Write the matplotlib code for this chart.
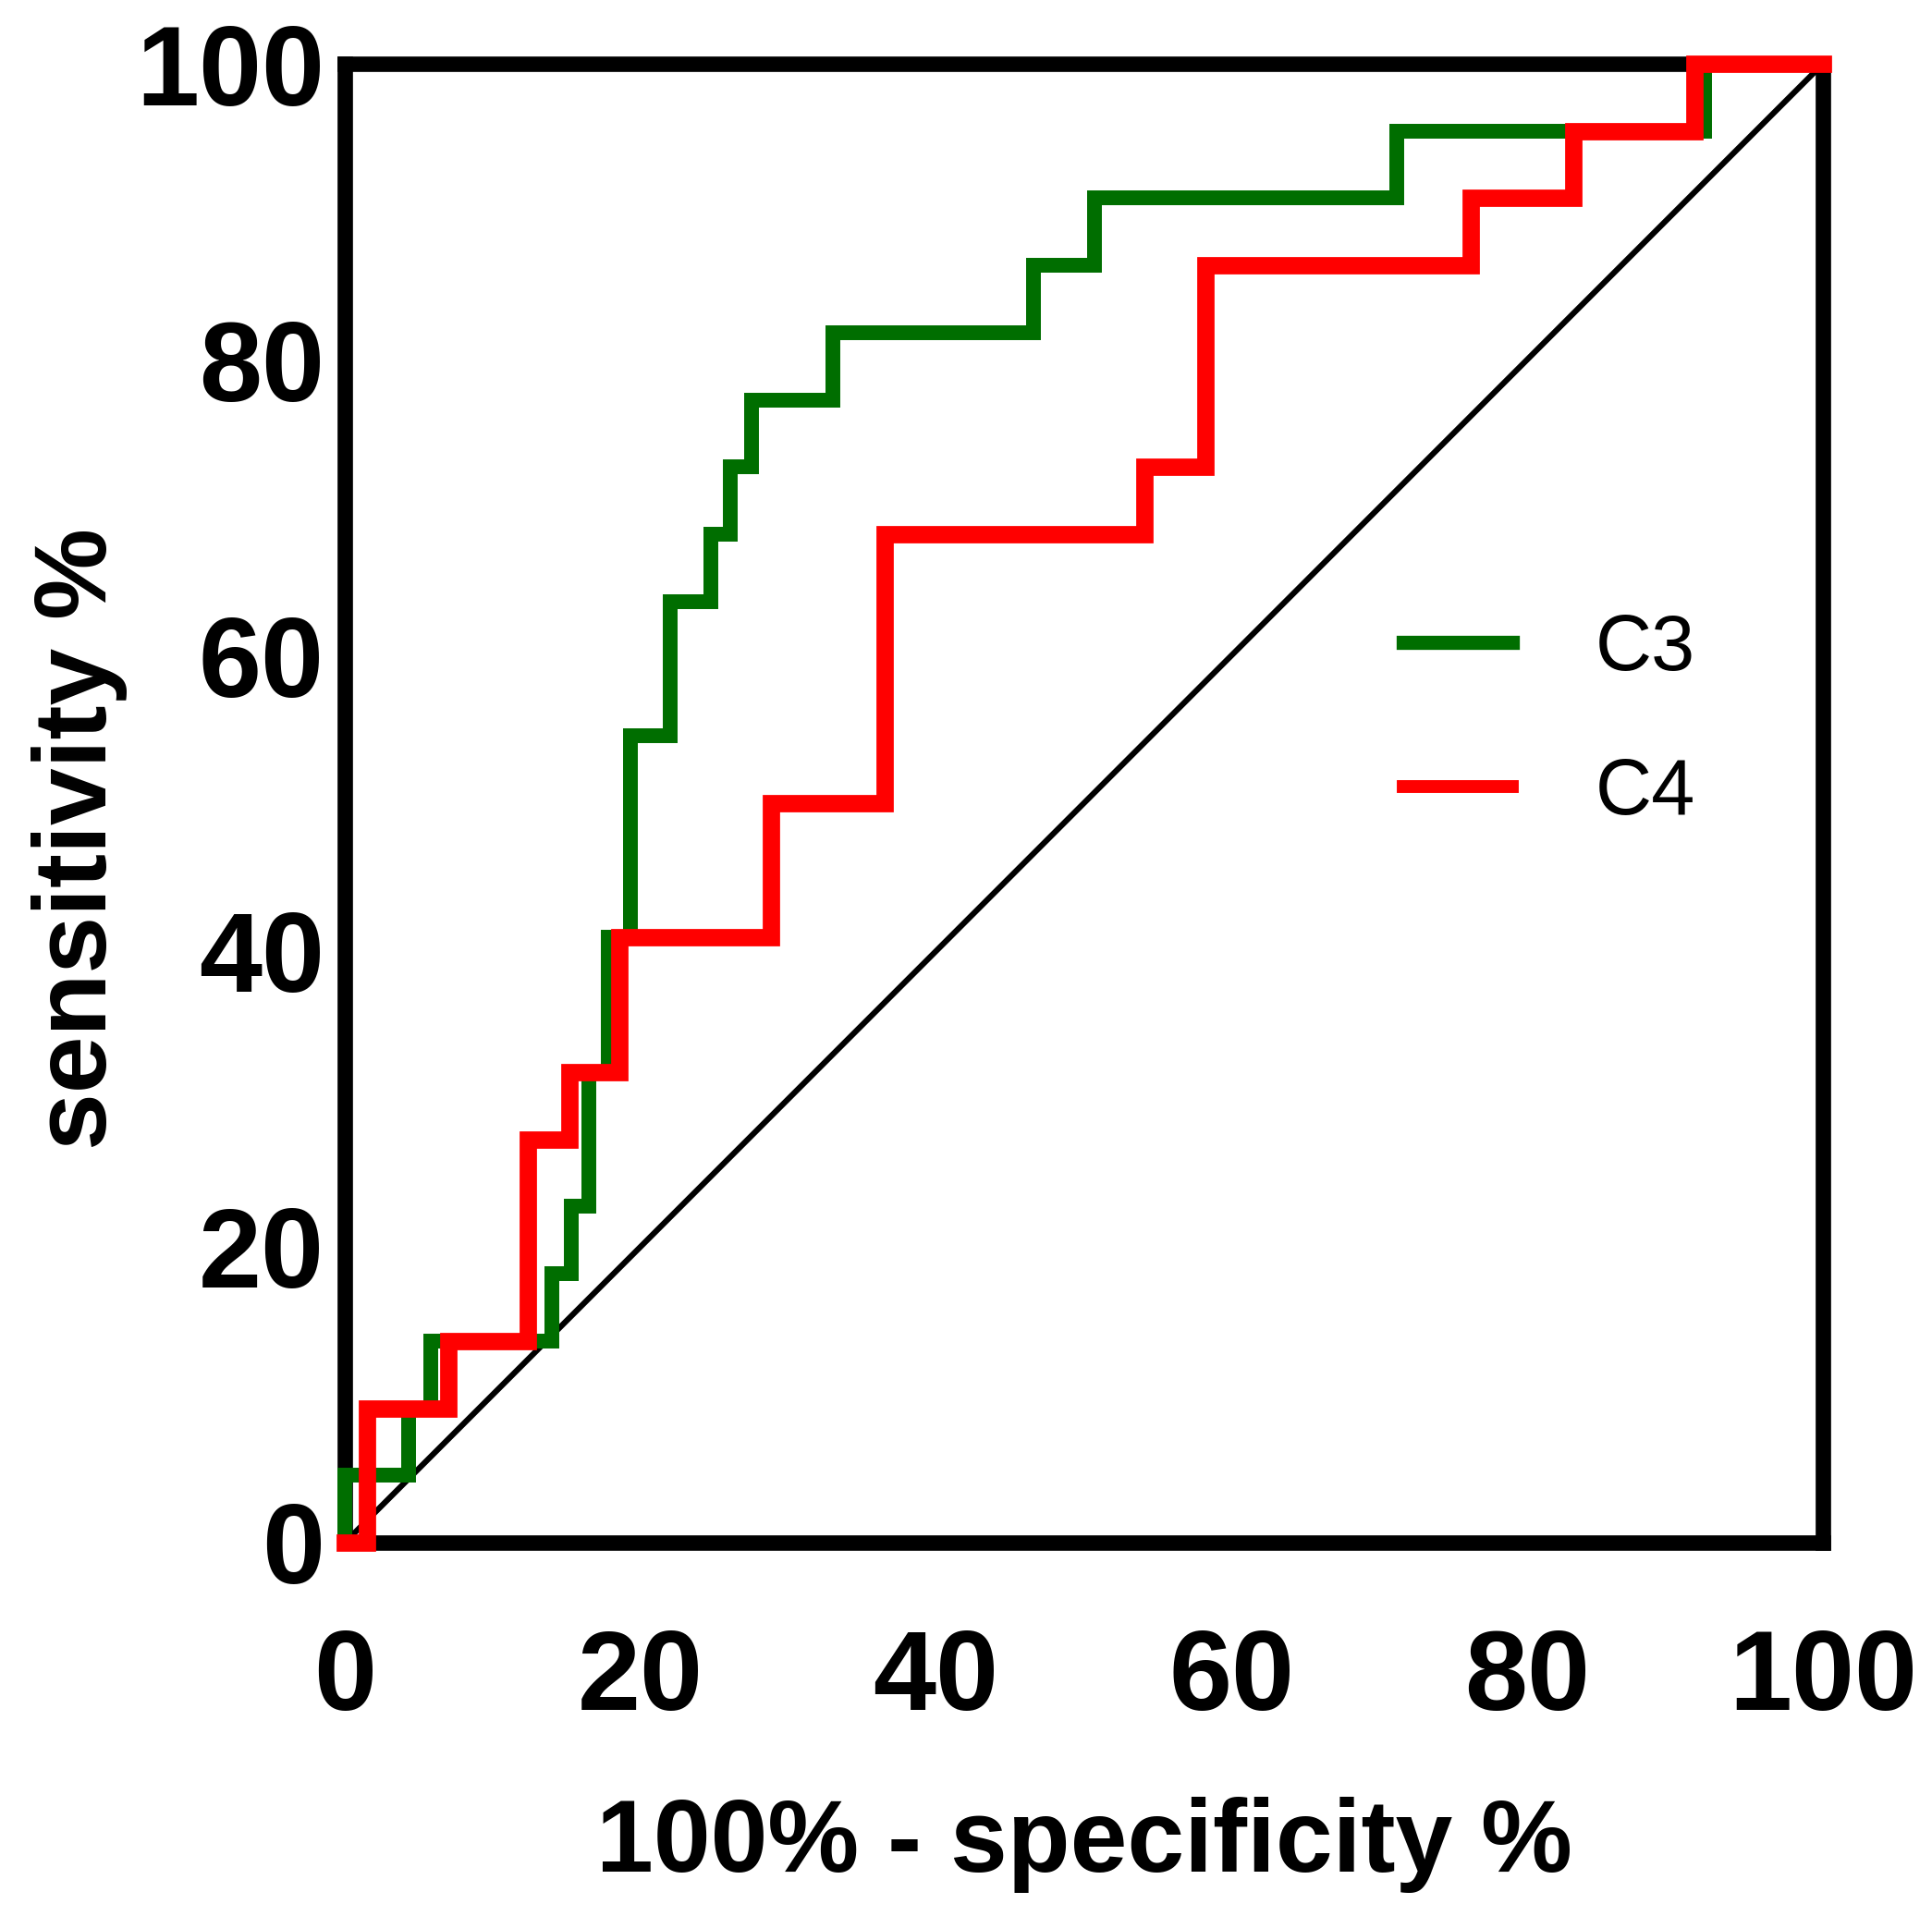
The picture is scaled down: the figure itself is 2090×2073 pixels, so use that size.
import matplotlib
matplotlib.use('Agg')
import matplotlib.pyplot as plt

# ROC points (100% - specificity %, sensitivity %)
c3_fpr = [0, 0, 4.3, 5.8, 14.0, 15.3, 16.5, 17.8, 19.3, 22.0, 24.75, 26.1, 27.5, 33.0, 46.6, 50.75, 71.2, 92.0, 100]
c3_tpr = [0, 4.55, 9.09, 13.64, 18.18, 22.73, 31.82, 40.91, 54.55, 63.64, 68.18, 72.73, 77.27, 81.82, 86.36, 90.91, 95.45, 100, 100]

c4_fpr = [0, 1.5, 7.0, 12.4, 15.2, 18.6, 28.8, 36.5, 54.1, 58.2, 76.2, 83.1, 91.3, 100]
c4_tpr = [0, 9.09, 13.64, 27.27, 31.82, 40.91, 50, 68.18, 72.73, 86.36, 90.91, 95.45, 100, 100]

ticks = [0, 20, 40, 60, 80, 100]

plt.rcParams['font.family'] = ['Liberation Sans', 'DejaVu Sans']

fig = plt.figure(figsize=(20.9, 20.73), dpi=100)
ax = fig.add_axes([0.1785, 0.1949, 0.765, 0.7718])

# line of identity
ax.plot([0, 100], [0, 100], color='black', linewidth=4.5, zorder=2, clip_on=False)
ax.plot(c3_fpr, c3_tpr, drawstyle='steps-post', color='#006e00', linewidth=11.5,
        label='C3', zorder=3, clip_on=False, solid_joinstyle='miter')
ax.plot(c4_fpr, c4_tpr, drawstyle='steps-post', color='#ff0000', linewidth=13.5,
        label='C4', zorder=4, clip_on=False, solid_joinstyle='miter')

ax.set_xlim(0, 100)
ax.set_ylim(0, 100)
ax.set_xticks(ticks)
ax.set_yticks(ticks)
ax.tick_params(axis='both', length=0, labelsize=88)
ax.tick_params(axis='x', pad=66)
ax.tick_params(axis='y', pad=16)
for lab in ax.get_xticklabels() + ax.get_yticklabels():
    lab.set_fontweight('bold')

for sp in ax.spines.values():
    sp.set_linewidth(12)
    sp.set_zorder(2.5)

ax.set_xlabel('100% - specificity %', fontsize=80, fontweight='bold', labelpad=50)
ax.set_ylabel('sensitivity %', fontsize=80, fontweight='bold')
ax.yaxis.set_label_coords(-0.147, 0.4756)

leg = ax.legend(loc='center left', bbox_to_anchor=(0.716, 0.555), frameon=False,
                fontsize=61, handlelength=1.4, handletextpad=1.05, labelspacing=0.9,
                borderpad=0, borderaxespad=0)
leg.get_lines()[0].set_linewidth(11)
leg.get_lines()[1].set_linewidth(10)

fig.savefig('out.png', dpi=100)
